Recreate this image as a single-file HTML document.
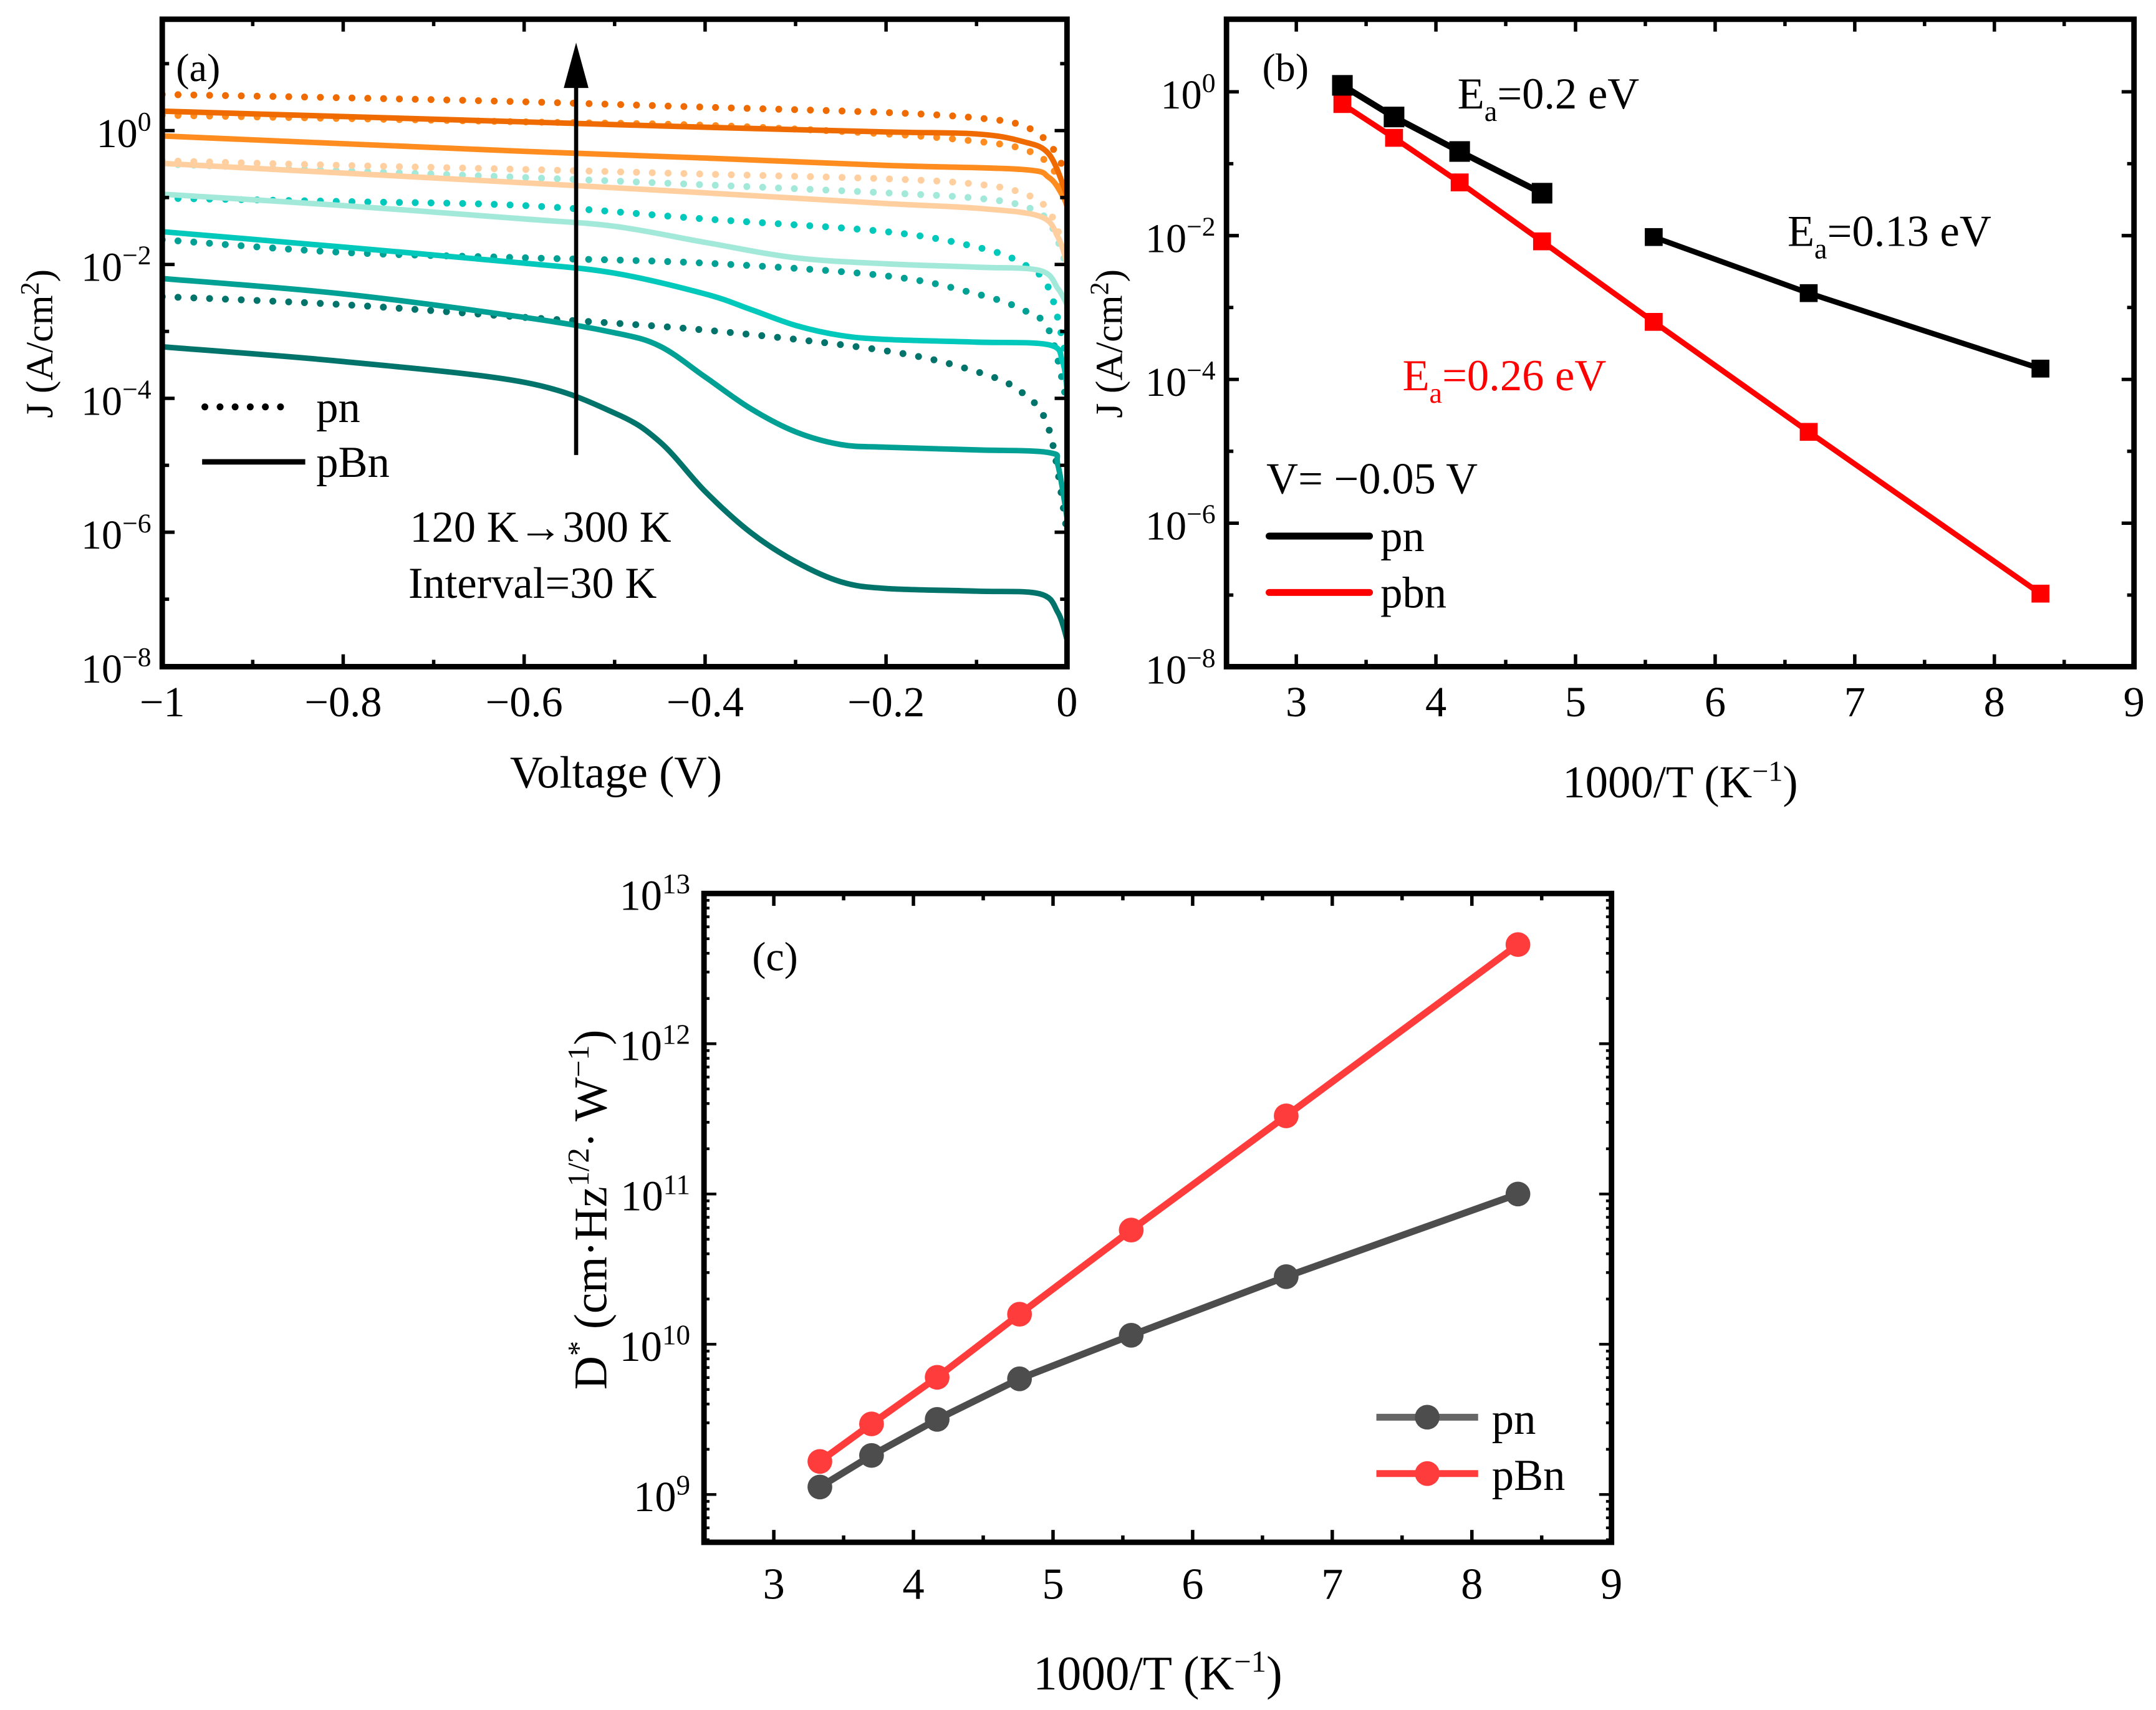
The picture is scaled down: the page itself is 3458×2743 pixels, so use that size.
<!DOCTYPE html>
<html><head><meta charset="utf-8"><style>
html,body{margin:0;padding:0;background:#fff;}
svg{display:block;font-family:"Liberation Serif",serif;}
</style></head><body>
<svg id="fig" width="3458" height="2743" viewBox="0 0 1568 1244" preserveAspectRatio="none" xmlns="http://www.w3.org/2000/svg">
<rect x="0" y="0" width="1568" height="1244" fill="#fff"/>
<g id="pa"></g>
<g id="pb"></g>
<g id="pc"></g>
</svg>
<script>
// ---------- Panel (a) data ----------
const aColors = ["#00746b","#00a094","#00c9bb","#a3e9da","#ffcf9f","#ff8c1f","#ef6b00"];
const aTemps = [120,150,180,210,240,270,300];
const aSolidV = [
 [-1,-0.8,-0.6,-0.5,-0.45,-0.4,-0.35,-0.3,-0.25,-0.2,-0.1,-0.03,-0.01,0],
 [-1,-0.8,-0.6,-0.5,-0.45,-0.4,-0.35,-0.3,-0.25,-0.2,-0.1,-0.02,-0.01,0],
 [-1,-0.8,-0.6,-0.5,-0.4,-0.35,-0.3,-0.25,-0.2,-0.1,-0.02,-0.005,0],
 [-1,-0.8,-0.6,-0.5,-0.4,-0.3,-0.2,-0.1,-0.03,-0.01,0],
 [-1,-0.6,-0.4,-0.2,-0.1,-0.03,-0.01,0],
 [-1,-0.6,-0.4,-0.2,-0.05,-0.02,-0.005,0],
 [-1,-0.6,-0.4,-0.2,-0.1,-0.05,-0.02,0]
];
const aSolidLogJ = [
 [-3.23,-3.45,-3.76,-4.22,-4.65,-5.39,-6.0,-6.44,-6.74,-6.84,-6.88,-6.92,-7.2,-7.6],
 [-2.21,-2.44,-2.79,-3.02,-3.22,-3.68,-4.15,-4.5,-4.69,-4.73,-4.77,-4.81,-5.0,-5.78],
 [-1.51,-1.74,-1.98,-2.13,-2.44,-2.67,-2.91,-3.06,-3.12,-3.16,-3.2,-3.45,-3.85],
 [-0.95,-1.12,-1.32,-1.43,-1.67,-1.9,-1.99,-2.04,-2.09,-2.36,-2.6],
 [-0.49,-0.78,-0.93,-1.09,-1.16,-1.28,-1.59,-1.98],
 [-0.08,-0.31,-0.41,-0.52,-0.58,-0.7,-0.97,-1.13],
 [0.29,0.13,0.05,-0.02,-0.05,-0.16,-0.35,-0.97]
];
const aDotV = [-1,-0.8,-0.6,-0.4,-0.2,-0.1,-0.05,-0.02,0];
const aDotLogJ = [
 [-2.48,-2.6,-2.79,-2.98,-3.29,-3.6,-3.91,-4.46,-6.0],
 [-1.63,-1.82,-1.9,-1.98,-2.17,-2.44,-2.67,-2.98,-4.07],
 [-1.01,-1.06,-1.12,-1.32,-1.51,-1.74,-1.98,-2.36,-3.45],
 [-0.5,-0.6,-0.7,-0.81,-0.93,-1.01,-1.12,-1.36,-2.05],
 [-0.45,-0.52,-0.58,-0.65,-0.72,-0.8,-0.93,-1.2,-1.9],
 [0.23,0.18,0.13,0.08,-0.05,-0.16,-0.27,-0.5,-0.97],
 [0.54,0.49,0.43,0.35,0.27,0.19,0.08,-0.19,-0.66]
];
const aXTicks = [-1,-0.8,-0.6,-0.4,-0.2,0];
const aXTickLabels = ["\u22121","\u22120.8","\u22120.6","\u22120.4","\u22120.2","0"];
const aYTicks = [0,-2,-4,-6,-8];

// ---------- Panel (b) data ----------
const bX = [3.33,3.70,4.17,4.76,5.56,6.67,8.33];
const bPnLogJ = [0.09,-0.35,-0.83,-1.41,-2.02,-2.8,-3.85];
const bPbnLogJ = [-0.17,-0.64,-1.26,-2.08,-3.2,-4.73,-6.98];
const bXTicks = [3,4,5,6,7,8,9];
const bYTicks = [0,-2,-4,-6,-8];

// ---------- Panel (c) data ----------
const cX = [3.33,3.70,4.17,4.76,5.56,6.67,8.33];
const cPnLogD = [9.05,9.26,9.5,9.77,10.06,10.45,11.0];
const cPbnLogD = [9.22,9.47,9.78,10.2,10.76,11.52,12.66];
const cXTicks = [3,4,5,6,7,8,9];
const cYTicks = [9,10,11,12,13];

const NS="http://www.w3.org/2000/svg";
function mk(parent,tag,attrs){const e=document.createElementNS(NS,tag);for(const k in attrs)e.setAttribute(k,attrs[k]);parent.appendChild(e);return e;}
function smooth(pts){
  let d="M"+pts[0][0].toFixed(2)+","+pts[0][1].toFixed(2);
  for(let i=0;i<pts.length-1;i++){
    const p0=pts[i-1]||pts[i],p1=pts[i],p2=pts[i+1],p3=pts[i+2]||p2;
    const c1=[p1[0]+(p2[0]-p0[0])/6,p1[1]+(p2[1]-p0[1])/6];
    const c2=[p2[0]-(p3[0]-p1[0])/6,p2[1]-(p3[1]-p1[1])/6];
    d+=" C"+c1[0].toFixed(2)+","+c1[1].toFixed(2)+" "+c2[0].toFixed(2)+","+c2[1].toFixed(2)+" "+p2[0].toFixed(2)+","+p2[1].toFixed(2);
  }
  return d;
}
function frame(g,L,T,R,B){
  const f=mk(g,"rect",{x:L,y:T,width:R-L,height:B-T,fill:"none",stroke:"#000","stroke-width":4});
  
  
}
function powLabel(g,x,y,exp,name,fs){
  fs=fs||30;
  const t=mk(g,"text",{x:x,y:y,"text-anchor":"end","font-size":fs});
  
  
  const a=mk(t,"tspan",{});a.textContent="10";
  const b=mk(t,"tspan",{dy:-12,"font-size":fs*0.66});b.textContent=exp;
  return t;
}
function txt(g,x,y,s,name,attrs){
  const t=mk(g,"text",Object.assign({x:x,y:y,"font-size":32},attrs||{}));
  t.textContent=s;
  
  
  return t;
}

// ===== Panel A =====
(function(){
  const g=document.getElementById("pa");
  const L=118,R=776,T=14,B=485;
  const xs=v=>L+(v+1)*(R-L);
  const y0=95,dec=48.7;
  const ys=l=>y0-l*dec;
  const cl=mk(g,"clipPath",{id:"clipA"});mk(cl,"rect",{x:L,y:T,width:R-L,height:B-T});
  const cg=mk(g,"g",{"clip-path":"url(#clipA)"});
  for(let i=0;i<aTemps.length;i++){
    const pts=aDotV.map((v,j)=>[xs(v),ys(aDotLogJ[i][j])]);
    const p=mk(cg,"path",{d:smooth(pts),fill:"none",stroke:aColors[i],"stroke-width":5,"stroke-linecap":"round","stroke-dasharray":"0 11.5"});
    
    
  }
  for(let i=0;i<aTemps.length;i++){
    const pts=aSolidV[i].map((v,j)=>[xs(v),ys(aSolidLogJ[i][j])]);
    const p=mk(cg,"path",{d:smooth(pts),fill:"none",stroke:aColors[i],"stroke-width":4});
    
    
  }
  for(let v=-1;v<=0.001;v+=0.1){
    const x=xs(v);const major=Math.abs(Math.round(v*10))%2===0;const len=major?9:5;
    mk(g,"line",{x1:x,y1:B,x2:x,y2:B-len,stroke:"#000","stroke-width":2.5});
    mk(g,"line",{x1:x,y1:T,x2:x,y2:T+len,stroke:"#000","stroke-width":2.5});
  }
  for(let l=1;l>=-8;l--){
    const y=ys(l);const len=(l%2===0)?9:5;
    mk(g,"line",{x1:L,y1:y,x2:L+len,y2:y,stroke:"#000","stroke-width":2.5});
    mk(g,"line",{x1:R,y1:y,x2:R-len,y2:y,stroke:"#000","stroke-width":2.5});
  }
  frame(g,L,T,R,B);
  aXTicks.forEach((v,i)=>txt(g,xs(v),521,aXTickLabels[i],"x-tick-label",{"text-anchor":"middle","font-size":31}));
  aYTicks.forEach(l=>powLabel(g,L-8,ys(l)+12,l===0?"0":"\u2212"+(-l),"y-tick-label"));
  txt(g,448,573,"Voltage (V)","x-axis-title",{"text-anchor":"middle","font-size":33});
  const yt=txt(g,0,0,"","y-axis-title",{"text-anchor":"middle","font-size":28,transform:"translate(38,250) rotate(-90)"});
  const t1=mk(yt,"tspan",{});t1.textContent="J (A/cm";
  const t2=mk(yt,"tspan",{dy:-10,"font-size":19});t2.textContent="2";
  const t3=mk(yt,"tspan",{dy:10});t3.textContent=")";
  txt(g,128,59,"(a)","panel-label",{"font-size":29});
  const ar=mk(g,"line",{x1:419,y1:331,x2:419,y2:60,stroke:"#000","stroke-width":3});
  
  
  const ah=mk(g,"polygon",{points:"410,64 428,64 419,31",fill:"#000"});
  
  
  txt(g,298,394,"120 K\u2192300 K","temperature-range-text");
  txt(g,297,435,"Interval=30 K","interval-text");
  const l1=mk(g,"line",{x1:149,y1:296,x2:215,y2:296,stroke:"#000","stroke-width":5,"stroke-linecap":"round","stroke-dasharray":"0 11"});
  
  
  txt(g,230,307,"pn","legend-pn-label");
  const l2=mk(g,"line",{x1:147,y1:336,x2:222,y2:336,stroke:"#000","stroke-width":4});
  
  
  txt(g,230,347,"pBn","legend-pbn-label");
})();

// ===== Panel B =====
(function(){
  const g=document.getElementById("pb");
  const L=892,R=1552,T=14,B=485;
  const xs=v=>L+(v-2.5)*(R-L)/6.5;
  const y0=66.8,dec=52.3;
  const ys=l=>y0-l*dec;
  for(let v=2.5;v<=9.001;v+=0.5){
    const x=xs(v);const major=Math.abs(v-Math.round(v))<0.01;const len=major?9:5;
    mk(g,"line",{x1:x,y1:B,x2:x,y2:B-len,stroke:"#000","stroke-width":2.5});
    mk(g,"line",{x1:x,y1:T,x2:x,y2:T+len,stroke:"#000","stroke-width":2.5});
  }
  for(let l=1;l>=-8;l--){
    const y=ys(l);const len=(l%2===0)?9:5;
    mk(g,"line",{x1:L,y1:y,x2:L+len,y2:y,stroke:"#000","stroke-width":2.5});
    mk(g,"line",{x1:R,y1:y,x2:R-len,y2:y,stroke:"#000","stroke-width":2.5});
  }
  const rp=mk(g,"polyline",{points:bX.map((x,i)=>xs(x)+","+ys(bPbnLogJ[i])).join(" "),fill:"none",stroke:"#ff0000","stroke-width":4});
  
  
  bX.forEach((x,i)=>{const s=mk(g,"rect",{x:xs(x)-6.5,y:ys(bPbnLogJ[i])-6.5,width:13,height:13,fill:"#ff0000"});
    
    });
  const pts1=bX.slice(0,4).map((x,i)=>xs(x)+","+ys(bPnLogJ[i])).join(" ");
  const pts2=bX.slice(4).map((x,i)=>xs(x)+","+ys(bPnLogJ[i+4])).join(" ");
  const k1=mk(g,"polyline",{points:pts1,fill:"none",stroke:"#000","stroke-width":4.5});
  
  
  const k2=mk(g,"polyline",{points:pts2,fill:"none",stroke:"#000","stroke-width":4});
  
  
  bX.forEach((x,i)=>{const sz=i<4?15:13;const s=mk(g,"rect",{x:xs(x)-sz/2,y:ys(bPnLogJ[i])-sz/2,width:sz,height:sz,fill:"#000"});
    
    });
  frame(g,L,T,R,B);
  bXTicks.forEach(v=>txt(g,xs(v),521,String(v),"x-tick-label",{"text-anchor":"middle","font-size":31}));
  bYTicks.forEach(l=>powLabel(g,L-8,ys(l)+12,l===0?"0":"\u2212"+(-l),"y-tick-label"));
  const xt=txt(g,1222,580,"","x-axis-title",{"text-anchor":"middle","font-size":33});
  const a=mk(xt,"tspan",{});a.textContent="1000/T (K";
  const b=mk(xt,"tspan",{dy:-12,"font-size":21});b.textContent="\u22121";
  const c=mk(xt,"tspan",{dy:12});c.textContent=")";
  const yt=txt(g,0,0,"","y-axis-title",{"text-anchor":"middle","font-size":28,transform:"translate(816,250) rotate(-90)"});
  const t1=mk(yt,"tspan",{});t1.textContent="J (A/cm";
  const t2=mk(yt,"tspan",{dy:-10,"font-size":19});t2.textContent="2";
  const t3=mk(yt,"tspan",{dy:10});t3.textContent=")";
  txt(g,918,59,"(b)","panel-label",{"font-size":29});
  function ea(x,y,val,col,name){const t=txt(g,x,y,"",name,{fill:col});
    const p=mk(t,"tspan",{});p.textContent="E";
    const s=mk(t,"tspan",{dy:9,"font-size":21});s.textContent="a";
    const r=mk(t,"tspan",{dy:-9});r.textContent="="+val+" eV";}
  ea(1060,79,"0.2","#000","ea-pn-high-t");
  ea(1300,179,"0.13","#000","ea-pbn-low-t");
  ea(1020,284,"0.26","#ff0000","ea-pbn");
  txt(g,921,359,"V= \u22120.05 V","bias-label");
  const l1=mk(g,"line",{x1:923,y1:390,x2:996,y2:390,stroke:"#000","stroke-width":5,"stroke-linecap":"round"});
  
  
  txt(g,1004,401,"pn","legend-pn-label");
  const l2=mk(g,"line",{x1:923,y1:431,x2:996,y2:431,stroke:"#ff0000","stroke-width":5,"stroke-linecap":"round"});
  
  
  txt(g,1004,442,"pbn","legend-pbn-label");
})();

// ===== Panel C =====
(function(){
  const g=document.getElementById("pc");
  const L=512,R=1172,T=650,B=1122;
  const xs=v=>L+(v-2.5)*(R-L)/6.5;
  const dec=(B-T)/4.318;
  const ys=l=>T+(13-l)*dec;
  for(let v=2.5;v<=9.001;v+=0.5){
    const x=xs(v);const major=Math.abs(v-Math.round(v))<0.01;const len=major?9:5;
    mk(g,"line",{x1:x,y1:B,x2:x,y2:B-len,stroke:"#000","stroke-width":2.5});
    mk(g,"line",{x1:x,y1:T,x2:x,y2:T+len,stroke:"#000","stroke-width":2.5});
  }
  for(let d=8;d<=13;d++){
    for(let m=1;m<10;m++){
      const l=d+Math.log10(m);if(l<8.68||l>13)continue;
      const y=ys(l);const len=m===1?9:4;
      mk(g,"line",{x1:L,y1:y,x2:L+len,y2:y,stroke:"#000","stroke-width":2});
      mk(g,"line",{x1:R,y1:y,x2:R-len,y2:y,stroke:"#000","stroke-width":2});
    }
  }
  const gp=mk(g,"polyline",{points:cX.map((x,i)=>xs(x)+","+ys(cPnLogD[i])).join(" "),fill:"none",stroke:"#4d4d4d","stroke-width":5});
  
  
  cX.forEach((x,i)=>{const c=mk(g,"circle",{cx:xs(x),cy:ys(cPnLogD[i]),r:9,fill:"#4d4d4d"});
    
    });
  const rp=mk(g,"polyline",{points:cX.map((x,i)=>xs(x)+","+ys(cPbnLogD[i])).join(" "),fill:"none",stroke:"#ff3c3c","stroke-width":5});
  
  
  cX.forEach((x,i)=>{const c=mk(g,"circle",{cx:xs(x),cy:ys(cPbnLogD[i]),r:9,fill:"#ff3c3c"});
    
    });
  frame(g,L,T,R,B);
  cXTicks.forEach(v=>txt(g,xs(v),1163,String(v),"x-tick-label",{"text-anchor":"middle","font-size":32}));
  cYTicks.forEach(l=>powLabel(g,L-10,ys(l)+12,String(l),"y-tick-label",31));
  const xt=txt(g,842,1229,"","x-axis-title",{"text-anchor":"middle","font-size":35});
  const a=mk(xt,"tspan",{});a.textContent="1000/T (K";
  const b=mk(xt,"tspan",{dy:-13,"font-size":22});b.textContent="\u22121";
  const c=mk(xt,"tspan",{dy:13});c.textContent=")";
  const yt=txt(g,0,0,"","y-axis-title",{"text-anchor":"middle","font-size":34,transform:"translate(441,880) rotate(-90)"});
  const p=[["D",0,34],["*",-13,22],[" (cm\u00b7Hz",13,34],["1/2",-13,22],["\u00b7 W",13,34],["\u22121",-13,22],[")",13,34]];
  p.forEach(q=>{const s=mk(yt,"tspan",{dy:q[1],"font-size":q[2]});s.textContent=q[0];});
  txt(g,547,706,"(c)","panel-label",{"font-size":30});
  const l1=mk(g,"line",{x1:1001,y1:1031,x2:1075,y2:1031,stroke:"#666","stroke-width":5});
  
  
  const m1=mk(g,"circle",{cx:1038,cy:1031,r:9,fill:"#4d4d4d"});
  
  
  txt(g,1085,1043,"pn","legend-pn-label",{"font-size":32});
  const l2=mk(g,"line",{x1:1001,y1:1072,x2:1075,y2:1072,stroke:"#ff3c3c","stroke-width":5});
  
  
  const m2=mk(g,"circle",{cx:1038,cy:1072,r:9,fill:"#ff3c3c"});
  
  
  txt(g,1085,1084,"pBn","legend-pbn-label",{"font-size":32});
})();
</script>
</body></html>
